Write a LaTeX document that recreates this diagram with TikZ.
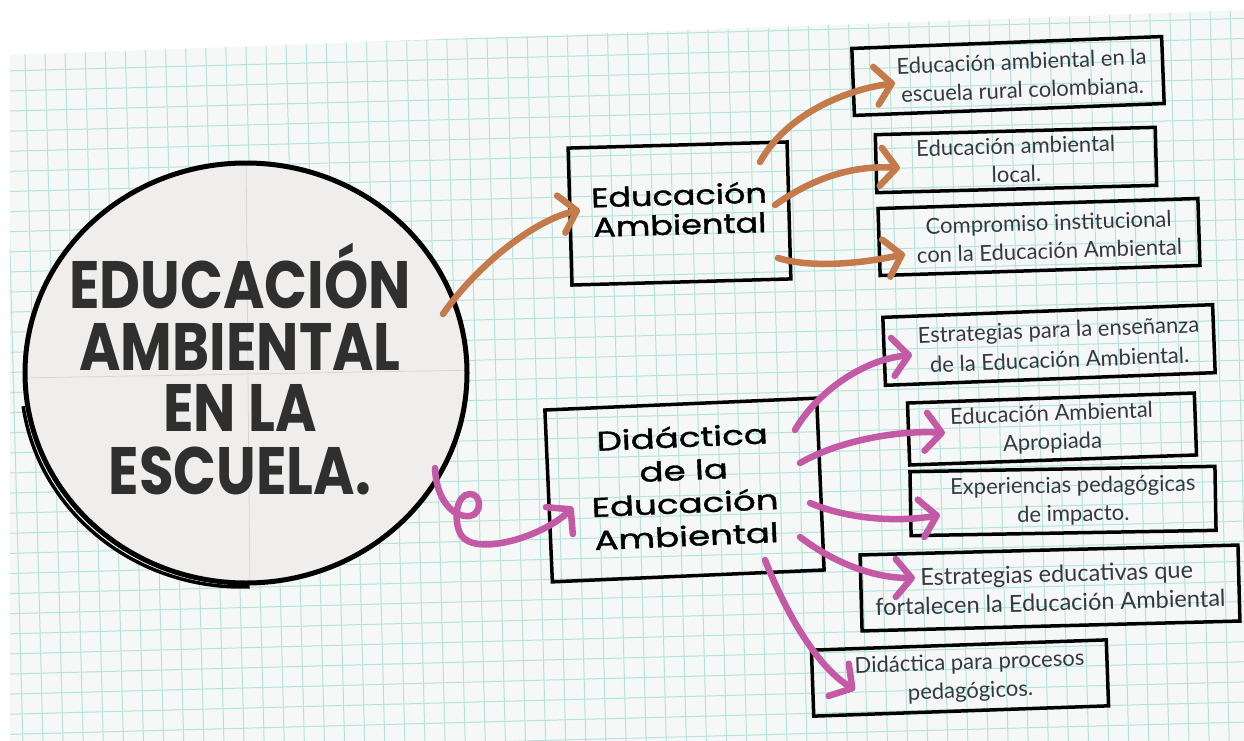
\documentclass[tikz,border=0pt]{standalone}
\usepackage{fontspec}
\usepackage{graphicx}
\setmainfont{Lato}
\newfontfamily\titlefont{Poppins}
\newfontfamily\handfont{Poppins}[FakeBold=1.2]
\usetikzlibrary{arrows.meta,calc,shapes.geometric}
\definecolor{paper}{HTML}{F6F8F7}
\definecolor{gridc}{HTML}{B2E4DB}
\definecolor{circfill}{HTML}{EFEEEC}
\definecolor{foldc}{HTML}{DAD7D2}
\definecolor{titlec}{HTML}{2F2F2F}
\definecolor{leaftext}{HTML}{353841}
\definecolor{orangec}{HTML}{C47A4A}
\definecolor{pinkc}{HTML}{C45AA6}
\newcommand{\stackc}[1]{\begin{tabular}{@{}c@{}}#1\end{tabular}}
\tikzset{
  gridline/.style={gridc, line width=1pt},
  leaf/.style={draw=black, line width=3.5pt, align=center, inner sep=0pt,
    text=leaftext, font=\fontsize{22}{28.5}\selectfont},
  hub/.style={draw=black, line width=3.5pt, align=center, inner sep=0pt,
    text=black},
  conn/.style={line width=6.5pt, line cap=round,
    -{Straight Barb[length=16pt,width=38pt,round]}},
  oarr/.style={conn, draw=orangec},
  parr/.style={conn, draw=pinkc},
}
\begin{document}
\begin{tikzpicture}[x=1pt,y=-1pt]
\useasboundingbox (0,0) rectangle (1244,741);
\fill[white] (0,0) rectangle (1244,741);
\fill[paper] (10,55) -- (1244,10) -- (1244,741) -- (10,741) -- cycle;
\begin{scope}
  \clip (10,55) -- (1244,10) -- (1244,741) -- (10,741) -- cycle;
  \begin{scope}[rotate around={1.5:(622,370)}]
    \foreach \i in {-5,...,70} \draw[gridline] (13.3+20.1*\i,-80) -- (13.3+20.1*\i,820);
    \foreach \j in {-6,...,45} \draw[gridline] (-60,75+20.1*\j) -- (1320,75+20.1*\j);
  \end{scope}
\end{scope}

% main circle
\node[ellipse, fill=circfill, minimum width=442pt, minimum height=420pt, inner sep=0pt] (main) at (246,373) {};
\begin{scope}
  \clip (246,373) ellipse [x radius=219pt, y radius=208pt];
  \draw[foldc, line width=0.8pt] (246,150) -- (250,600);
  \draw[foldc, line width=0.8pt] (20,378) -- (480,370);
\end{scope}
\draw[line width=5pt] (246,373) ellipse [x radius=221pt, y radius=210pt];
\draw[line width=3.5pt] (242,377) ++(188:221pt and 210pt) arc[start angle=188, end angle=272, x radius=221pt, y radius=210pt];

\node[text=titlec, font=\titlefont\bfseries\fontsize{67}{49}\selectfont, inner sep=0pt] (title) at (240,376)
  {\scalebox{0.84}[1]{\stackc{EDUCACIÓN\\AMBIENTAL\\EN LA\\ESCUELA.}}};

% hubs
\node[hub, rotate=1.6, minimum width=219pt, minimum height=137pt, font=\handfont\fontsize{27}{29.5}\selectfont] (ea) at (679.5,213.5)
  {\scalebox{1.24}[1]{\stackc{Educación\\Ambiental}}};
\node[hub, rotate=2.5, minimum width=272pt, minimum height=172pt, font=\handfont\fontsize{27}{33}\selectfont] (did) at (684.5,490)
  {\scalebox{1.32}[1]{\stackc{Didáctica\\de la\\Educación\\Ambiental}}};

% leaves
\node[leaf, rotate=2.2, minimum width=310pt, minimum height=67pt] (b1) at (1008,76) {\hspace*{28pt}Educación ambiental en la\\\hspace*{28pt}escuela rural colombiana.};
\node[leaf, rotate=1.5, minimum width=280pt, minimum height=58pt] (b2) at (1016,160) {Educación ambiental\\local.};
\node[leaf, rotate=1.8, minimum width=320pt, minimum height=67pt] (b3) at (1039,237) {\hspace*{20pt}Compromiso institucional\\\hspace*{20pt}con la Educación Ambiental};
\node[leaf, rotate=2.2, minimum width=330pt, minimum height=68pt, font=\fontsize{22}{30}\selectfont] (b4) at (1049,345) {\hspace*{20pt}Estrategias para la enseñanza\\\hspace*{20pt}de la Educación Ambiental.};
\node[leaf, rotate=2, minimum width=287pt, minimum height=62pt] (b5) at (1052,429) {Educación Ambiental\\Apropiada};
\node[leaf, rotate=1, minimum width=305pt, minimum height=64pt] (b6) at (1063,501) {\hspace*{20pt}Experiencias pedagógicas\\\hspace*{20pt}de impacto.};
\node[leaf, rotate=1.5, minimum width=378pt, minimum height=76pt, font=\fontsize{23.5}{29}\selectfont] (b7) at (1050,588) {\hspace*{14pt}Estrategias educativas que\\fortalecen la Educación Ambiental};
\node[leaf, rotate=2, minimum width=295pt, minimum height=66pt] (b8) at (960,678) {\hspace*{20pt}Didáctica para procesos\\\hspace*{20pt}pedagógicos.};

% orange connectors
\draw[oarr] ([shift={(197,-59)}]main.center) .. controls +(35,-50) and +(-45,10) .. ([shift={(-99.5,-3.5)}]ea.center);
\draw[oarr] ([shift={(80.5,-51.5)}]ea.center) .. controls +(25,-45) and +(-55,8) .. ([shift={(-113,7)}]b1.center);
\draw[oarr] ([shift={(95.5,-8.5)}]ea.center) .. controls +(35,-25) and +(-50,-3) .. ([shift={(-116,8)}]b2.center);
\draw[oarr] ([shift={(98.5,44.5)}]ea.center) .. controls +(32,10) and +(-45,10) .. ([shift={(-134,17)}]b3.center);

% pink connectors
\draw[parr] ([shift={(189,95)}]main.center) .. controls +(1,30) and +(-18,2) .. (470,516)
  .. controls +(12,-2) and +(12,0) .. (470,494)
  .. controls +(-14,0) and +(-8,-14) .. (461,535)
  .. controls +(14,22) and +(-30,30) .. ([shift={(-111.5,17)}]did.center);
\draw[parr] ([shift={(110.5,-60)}]did.center) .. controls +(20,-35) and +(-52,5) .. ([shift={(-137,10)}]b4.center);
\draw[parr] ([shift={(115.5,-27)}]did.center) .. controls +(40,-23) and +(-45,-3) .. ([shift={(-107,4)}]b5.center);
\draw[parr] ([shift={(125.5,13)}]did.center) .. controls +(40,17) and +(-40,7) .. ([shift={(-123,14)}]b6.center);
\draw[parr] ([shift={(115.5,47)}]did.center) .. controls +(30,23) and +(-45,0) .. ([shift={(-135,-10)}]b7.center);
\draw[parr] ([shift={(80.5,70)}]did.center) .. controls +(20,50) and +(-40,-25) .. ([shift={(-105,12)}]b8.center);
\end{tikzpicture}
\end{document}
